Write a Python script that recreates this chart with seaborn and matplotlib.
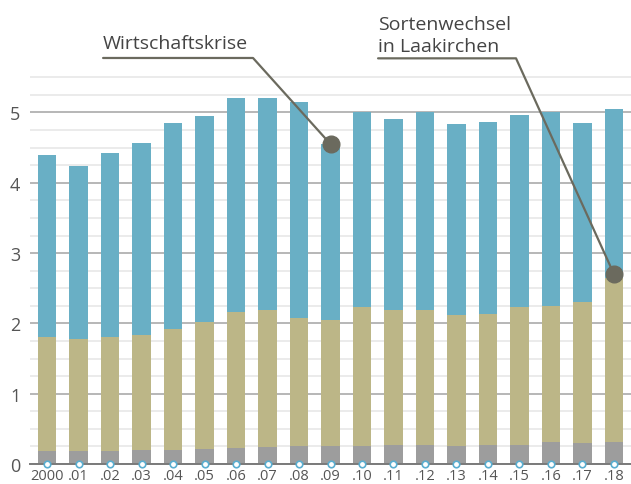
import numpy as np
import pandas as pd
import matplotlib
matplotlib.use("Agg")
import matplotlib.pyplot as plt
import seaborn as sns

# jahre und werte
jahre = ["2000", ".01", ".02", ".03", ".04", ".05", ".06", ".07", ".08", ".09",
         ".10", ".11", ".12", ".13", ".14", ".15", ".16", ".17", ".18"]
grau = [0.18, 0.18, 0.19, 0.20, 0.20, 0.21, 0.23, 0.24, 0.26, 0.25,
        0.26, 0.27, 0.27, 0.26, 0.27, 0.27, 0.31, 0.30, 0.31]
oliv = [1.63, 1.60, 1.61, 1.63, 1.72, 1.81, 1.93, 1.95, 1.82, 1.80,
        1.97, 1.92, 1.92, 1.86, 1.86, 1.96, 1.94, 2.01, 2.34]
blau = [2.58, 2.46, 2.62, 2.73, 2.93, 2.93, 3.05, 3.01, 3.07, 2.50,
        2.77, 2.71, 2.81, 2.72, 2.73, 2.73, 2.75, 2.54, 2.40]

y_ticks = [0, 1, 2, 3, 4, 5]

# annotationen
notiz_text = ["Wirtschaftskrise", "Sortenwechsel\nin Laakirchen"]
notiz_wert = [4.55, 2.70]

df = pd.DataFrame({"jahr": jahre, "grau": grau, "oliv": oliv, "blau": blau})
df["stufe1"] = df["grau"]
df["stufe2"] = df["grau"] + df["oliv"]
df["stufe3"] = df["stufe2"] + df["blau"]

sns.set_style("white")
plt.rcParams["font.family"] = ["Open Sans", "DejaVu Sans"]

fig = plt.figure(figsize=(6.31, 4.85), dpi=100)
ax = fig.add_axes([30 / 631, 20 / 485, 601 / 631, 390.2 / 485])

farbe_blau = "#69afc5"
farbe_oliv = "#bcb687"
farbe_grau = "#9d9d9d"
breite = 0.58

sns.barplot(data=df, x="jahr", y="stufe3", color=farbe_blau, saturation=1,
            width=breite, ax=ax, linewidth=0, zorder=3)
sns.barplot(data=df, x="jahr", y="stufe2", color=farbe_oliv, saturation=1,
            width=breite, ax=ax, linewidth=0, zorder=3)
sns.barplot(data=df, x="jahr", y="stufe1", color=farbe_grau, saturation=1,
            width=breite, ax=ax, linewidth=0, zorder=3)

ax.set_xlim(-0.54, 18.54)
ax.set_ylim(0, 5.55)
ax.set_yticks(y_ticks)
ax.set_yticks(np.arange(0, 5.51, 0.25), minor=True)
ax.grid(which="minor", axis="y", color="#e6e6e6", linewidth=1.1, zorder=0)
ax.grid(which="major", axis="y", color="#a3a3a3", linewidth=1.1, zorder=1)
ax.set_axisbelow(True)
for s in ["top", "right", "left"]:
    ax.spines[s].set_visible(False)
ax.spines["bottom"].set_color("#7a7a7a")
ax.spines["bottom"].set_linewidth(1.4)
ax.spines["bottom"].set_zorder(4)
ax.set_xlabel("")
ax.set_ylabel("")
ax.tick_params(axis="both", which="both", length=0)
ax.tick_params(axis="y", labelsize=13, labelcolor="#555555", pad=7)
ax.tick_params(axis="x", labelsize=10.5, labelcolor="#555555", pad=3)

# kleine kreise an der achse
sns.scatterplot(x=jahre, y=[0] * len(jahre), ax=ax, s=22, color="white",
                edgecolor="#5aaed0", linewidth=1.2, zorder=6, clip_on=False,
                legend=False)

# annotationen mit linien
linie = "#6b6a5e"
ax.plot([1.78, 6.54, 9], [5.775, 5.775, notiz_wert[0]], color=linie, lw=1.6,
        clip_on=False, zorder=7)
ax.plot([10.51, 14.89, 18], [5.77, 5.77, notiz_wert[1]], color=linie, lw=1.6,
        clip_on=False, zorder=7)
ax.plot([9, 18], notiz_wert, "o", color=linie, markersize=12, zorder=8,
        clip_on=False)
ax.text(1.78, 5.92, notiz_text[0], fontsize=14, color="#444444",
        va="baseline", ha="left", clip_on=False)
ax.text(10.51, 5.875, notiz_text[1], fontsize=14, color="#444444",
        va="baseline", ha="left", linespacing=1.3, clip_on=False)

fig.savefig("out.png", dpi=100)
